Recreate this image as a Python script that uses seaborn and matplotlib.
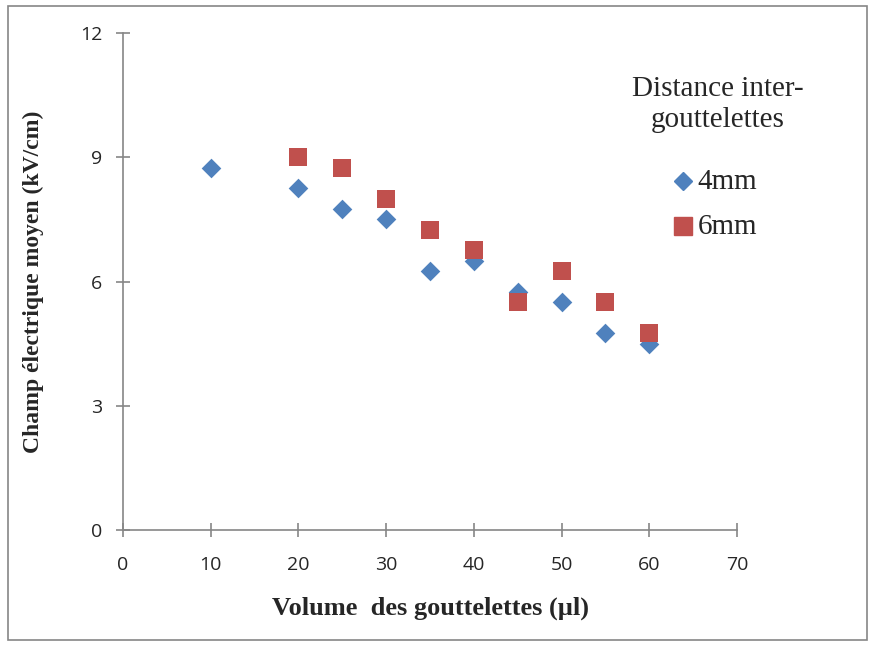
import numpy as np
import pandas as pd
import matplotlib.pyplot as plt
import seaborn as sns
from matplotlib.patches import Rectangle

volume = [10, 20, 25, 30, 35, 40, 45, 50, 55, 60]
champ_4mm = [8.75, 8.25, 7.75, 7.5, 6.25, 6.5, 5.75, 5.5, 4.75, 4.5]
volume_6mm = [20, 25, 30, 35, 40, 45, 50, 55, 60]
champ_6mm = [9.0, 8.75, 8.0, 7.25, 6.75, 5.5, 6.25, 5.5, 4.75]

sns.set_style("white")
fig = plt.figure(figsize=(8.75, 6.48), dpi=100)
ax = fig.add_axes([0.1406, 0.182, 0.7017, 0.767])

sns.scatterplot(x=volume, y=champ_4mm, marker="D", color="#4f81bd", s=100,
                linewidth=0, ax=ax, zorder=3)
sns.scatterplot(x=volume_6mm, y=champ_6mm, marker="s", color="#c0504d", s=170,
                linewidth=0, ax=ax, zorder=3)

ax.set_xlim(0, 70)
ax.set_ylim(0, 12)
ax.set_xticks(range(0, 71, 10))
ax.set_yticks([0, 3, 6, 9, 12])
for s in ["top", "right"]:
    ax.spines[s].set_visible(False)
for s in ["left", "bottom"]:
    ax.spines[s].set_color("#868686")
    ax.spines[s].set_linewidth(1.2)
ax.tick_params(axis="both", bottom=True, left=True, direction="inout", length=10,
               width=1.2, color="#868686", labelsize=14)
ax.tick_params(axis="x", pad=14)
ax.tick_params(axis="y", pad=10)
for lab in ax.get_xticklabels() + ax.get_yticklabels():
    lab.set_family("Open Sans")

ax.set_xlabel("Volume  des gouttelettes (µl)", family="Liberation Serif",
              fontweight="bold", fontsize=19, labelpad=16)
ax.set_ylabel("Champ électrique moyen (kV/cm)", family="Liberation Serif",
              fontweight="bold", fontsize=17, labelpad=26)

# legend
fig.text(0.82, 0.838, "Distance inter-\ngouttelettes", ha="center", va="center",
         family="Liberation Serif", fontsize=21, linespacing=1.25)
fig.add_artist(plt.Line2D([0.781], [0.721], marker="D", markersize=9, color="#4f81bd",
                          linestyle="none", transform=fig.transFigure))
fig.add_artist(plt.Line2D([0.781], [0.651], marker="s", markersize=13, color="#c0504d",
                          linestyle="none", transform=fig.transFigure))
fig.text(0.797, 0.719, "4mm", family="Liberation Serif", fontsize=21, va="center")
fig.text(0.797, 0.649, "6mm", family="Liberation Serif", fontsize=21, va="center")

fig.patches.append(Rectangle((0.009, 0.012), 0.982, 0.978, transform=fig.transFigure,
                             fill=False, edgecolor="#868686", linewidth=1.2))

fig.savefig("out.png", dpi=100)
